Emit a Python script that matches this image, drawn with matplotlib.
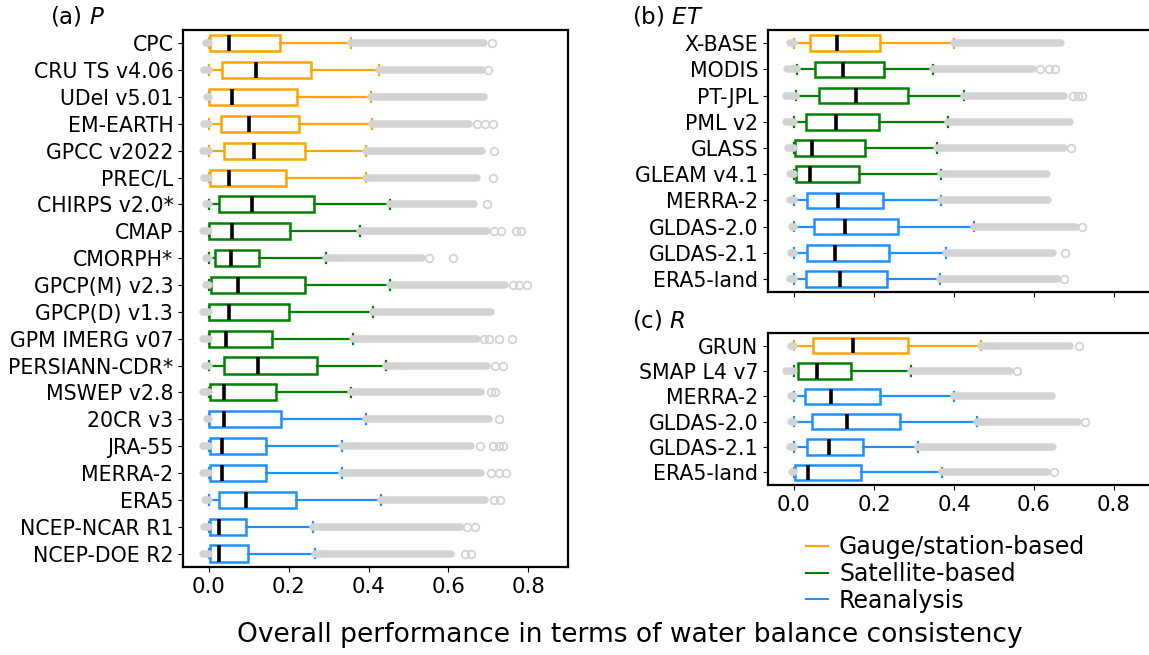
import matplotlib
matplotlib.use("Agg")
import matplotlib.pyplot as plt
from matplotlib.lines import Line2D

# colours per product type: 0 gauge, 1 satellite, 2 reanalysis
type_colors = ['orange', 'green', 'dodgerblue']
type_labels = ['Gauge/station-based', 'Satellite-based', 'Reanalysis']

# ---- (a) P ----
p_names = ["CPC", "CRU TS v4.06", "UDel v5.01", "EM-EARTH", "GPCC v2022", "PREC/L",
           "CHIRPS v2.0*", "CMAP", "CMORPH*", "GPCP(M) v2.3", "GPCP(D) v1.3",
           "GPM IMERG v07", "PERSIANN-CDR*", "MSWEP v2.8", "20CR v3", "JRA-55",
           "MERRA-2", "ERA5", "NCEP-NCAR R1", "NCEP-DOE R2"]
p_type = [0, 0, 0, 0, 0, 0, 1, 1, 1, 1, 1, 1, 1, 1, 2, 2, 2, 2, 2, 2]
p_whislo = [0.0] * 20
p_q1 = [0.003, 0.032, 0.0, 0.029, 0.038, 0.003, 0.025, 0.0, 0.015, 0.004,
        0.0, 0.0, 0.038, 0.003, 0.0, 0.003, 0.003, 0.026, 0.003, 0.003]
p_med = [0.05, 0.118, 0.059, 0.101, 0.113, 0.05, 0.108, 0.058, 0.054, 0.073,
         0.05, 0.042, 0.124, 0.038, 0.038, 0.032, 0.033, 0.094, 0.026, 0.026]
p_q3 = [0.178, 0.257, 0.221, 0.226, 0.24, 0.193, 0.263, 0.203, 0.126, 0.24,
        0.201, 0.159, 0.271, 0.169, 0.18, 0.142, 0.142, 0.219, 0.092, 0.098]
p_whishi = [0.355, 0.426, 0.405, 0.409, 0.394, 0.394, 0.453, 0.378, 0.294, 0.454,
            0.411, 0.361, 0.443, 0.357, 0.394, 0.334, 0.334, 0.432, 0.261, 0.265]
p_fmax = [0.69, 0.685, 0.69, 0.652, 0.685, 0.671, 0.664, 0.698, 0.535, 0.743,
          0.706, 0.673, 0.698, 0.681, 0.702, 0.656, 0.681, 0.693, 0.631, 0.608]
p_fmin = [-0.008, -0.012, -0.006, -0.012, -0.014, -0.012, -0.008, -0.016, -0.008, -0.008,
          -0.016, -0.014, -0.01, -0.014, -0.006, -0.014, -0.014, -0.01, -0.012, -0.014]
p_extra = [[0.71], [0.70], [], [0.672, 0.693, 0.711], [0.715], [0.712], [0.696],
           [0.715, 0.732, 0.771, 0.782], [0.551, 0.611], [0.761, 0.778, 0.798], [],
           [0.69, 0.703, 0.726, 0.759], [0.718, 0.738], [0.707, 0.718], [0.728],
           [0.68, 0.711, 0.726, 0.738], [0.707, 0.726, 0.745], [0.715, 0.73],
           [0.648, 0.668], [0.643, 0.657]]

# ---- (b) ET ----
et_names = ["X-BASE", "MODIS", "PT-JPL", "PML v2", "GLASS", "GLEAM v4.1",
            "MERRA-2", "GLDAS-2.0", "GLDAS-2.1", "ERA5-land"]
et_type = [0, 1, 1, 1, 1, 1, 2, 2, 2, 2]
et_whislo = [0.0, 0.008, 0.006, 0.0, 0.0, 0.0, 0.0, 0.0, 0.0, 0.0]
et_q1 = [0.041, 0.052, 0.062, 0.029, 0.002, 0.004, 0.033, 0.049, 0.033, 0.029]
et_med = [0.107, 0.123, 0.154, 0.104, 0.045, 0.039, 0.111, 0.128, 0.103, 0.116]
et_q3 = [0.216, 0.224, 0.285, 0.213, 0.177, 0.163, 0.223, 0.26, 0.238, 0.233]
et_whishi = [0.399, 0.348, 0.425, 0.385, 0.358, 0.368, 0.368, 0.449, 0.381, 0.364]
et_fmax = [0.668, 0.597, 0.676, 0.69, 0.674, 0.632, 0.634, 0.705, 0.647, 0.659]
et_fmin = [-0.01, -0.018, -0.02, -0.02, -0.016, -0.01, -0.01, -0.005, -0.008, -0.01]
et_extra = [[], [0.614, 0.638, 0.652], [0.698, 0.71, 0.72], [], [0.693], [],
            [], [0.72], [0.677], [0.675]]

# ---- (c) R ----
r_names = ["GRUN", "SMAP L4 v7", "MERRA-2", "GLDAS-2.0", "GLDAS-2.1", "ERA5-land"]
r_type = [0, 1, 2, 2, 2, 2]
r_whislo = [0.0] * 6
r_q1 = [0.048, 0.01, 0.027, 0.046, 0.033, 0.002]
r_med = [0.148, 0.058, 0.093, 0.133, 0.088, 0.035]
r_q3 = [0.285, 0.143, 0.214, 0.264, 0.173, 0.168]
r_whishi = [0.468, 0.293, 0.40, 0.458, 0.31, 0.371]
r_fmax = [0.691, 0.54, 0.645, 0.709, 0.647, 0.632]
r_fmin = [-0.008, -0.02, -0.008, -0.008, -0.01, -0.005]
r_extra = [[0.713], [0.558], [], [0.727], [], [0.65]]

grey = 'lightgrey'


def draw_panel(ax, names, types, whislo, q1, med, q3, whishi, fmin, fmax, extra):
    for i in range(len(names)):
        y = i + 1
        c = type_colors[types[i]]
        stats = [dict(med=med[i], q1=q1[i], q3=q3[i], whislo=whislo[i],
                      whishi=whishi[i], fliers=[])]
        ax.bxp(stats, positions=[y], widths=0.6, orientation='horizontal',
               patch_artist=True, showfliers=False, capwidths=0.36,
               boxprops=dict(facecolor='white', edgecolor=c, linewidth=1.8),
               whiskerprops=dict(color=c, linewidth=1.6),
               capprops=dict(color=c, linewidth=1.6),
               medianprops=dict(color='black', linewidth=2.6))
        # dense outliers drawn as a band of overlapping circles
        ax.plot([whishi[i], fmax[i]], [y, y], color=grey, lw=5.4,
                solid_capstyle='round', zorder=3)
        ax.plot([fmin[i], whislo[i]], [y, y], color=grey, lw=5.4,
                solid_capstyle='round', zorder=3)
        if extra[i]:
            ax.plot(extra[i], [y] * len(extra[i]), 'o', ms=5.5, mfc='none',
                    mec=grey, mew=1.3, zorder=3)
    ax.set_yticks(range(1, len(names) + 1))
    ax.set_yticklabels(names)
    ax.set_ylim(len(names) + 0.5, 0.5)
    ax.set_xlim(-0.065, 0.9)
    ax.set_xticks([0.0, 0.2, 0.4, 0.6, 0.8])
    ax.tick_params(axis='y', labelsize=14.8)
    ax.tick_params(axis='x', labelsize=15.3)
    for s in ax.spines.values():
        s.set_linewidth(1.6)


fig = plt.figure(figsize=(11.49, 6.55), dpi=100)
ax_p = fig.add_axes([0.1593, 0.1344, 0.335, 0.820])
ax_et = fig.add_axes([0.6684, 0.554, 0.336, 0.400])
ax_r = fig.add_axes([0.6684, 0.2595, 0.336, 0.232])

draw_panel(ax_p, p_names, p_type, p_whislo, p_q1, p_med, p_q3, p_whishi,
           p_fmin, p_fmax, p_extra)
draw_panel(ax_et, et_names, et_type, et_whislo, et_q1, et_med, et_q3, et_whishi,
           et_fmin, et_fmax, et_extra)
draw_panel(ax_r, r_names, r_type, r_whislo, r_q1, r_med, r_q3, r_whishi,
           r_fmin, r_fmax, r_extra)
ax_et.set_xticklabels([])

fig.text(50 / 1149, 1 - 16 / 655, "(a) $\\it{P}$", fontsize=16.5, va='center')
fig.text(632 / 1149, 1 - 16 / 655, "(b) $\\it{ET}$", fontsize=16.5, va='center')
fig.text(632 / 1149, 1 - 321 / 655, "(c) $\\it{R}$", fontsize=16.5, va='center')

handles = [Line2D([], [], color=c, lw=1.5) for c in type_colors]
fig.legend(handles, type_labels, loc='upper left', bbox_to_anchor=(806 / 1149, 1 - 535 / 655),
           frameon=False, fontsize=17, handlelength=0.95, handletextpad=0.45,
           labelspacing=0.12, borderpad=0, borderaxespad=0)

fig.text(630 / 1149, 1 - 635 / 655,
         "Overall performance in terms of water balance consistency",
         fontsize=19.1, ha='center', va='center')

plt.savefig("out.png", dpi=100)
